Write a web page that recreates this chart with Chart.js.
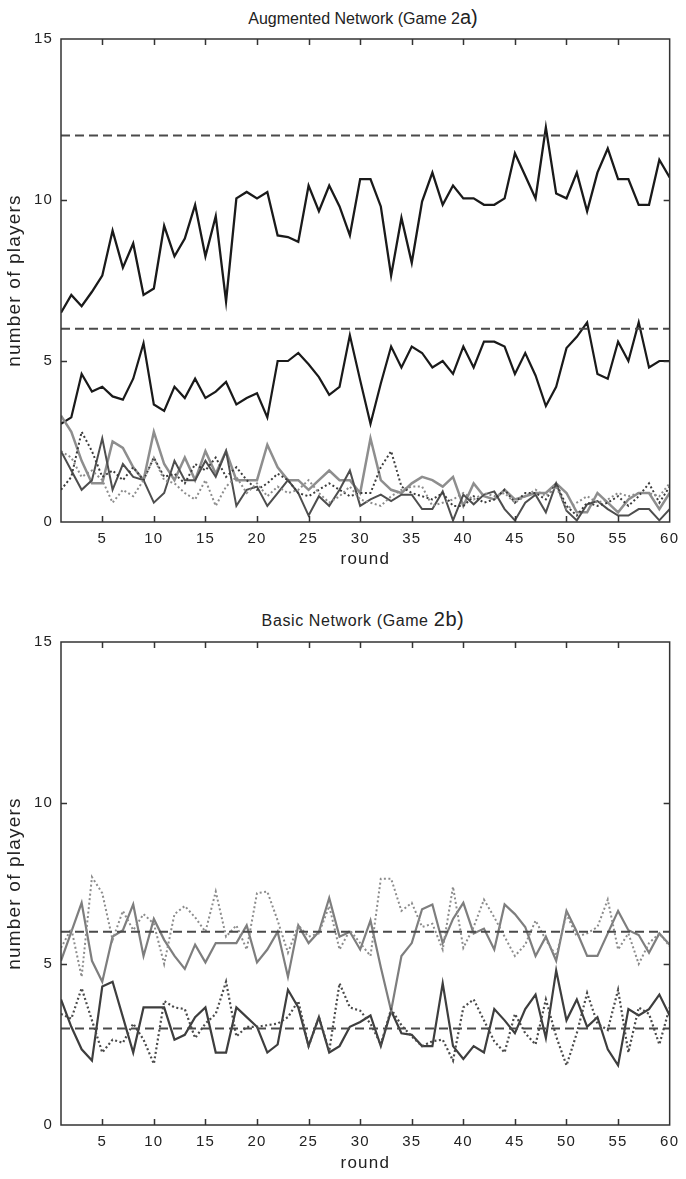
<!DOCTYPE html>
<html>
<head>
<meta charset="utf-8">
<script src="https://cdn.jsdelivr.net/npm/chart.js@4/dist/chart.umd.min.js"></script>
<style>
  body { margin: 0; background: #fff; width: 686px; height: 1179px; overflow: hidden; position: relative;
         font-family: "Liberation Sans", Arial, sans-serif; color: #222; }
  canvas { position: absolute; left: 0; }
  .title { position: absolute; left: 55px; width: 616px; text-align: center; font-size: 16px; line-height: 22px; }
  .title span { font-size: 20px; }
</style>
</head>
<body>
<div class="title" style="top:6px">Augmented Network (Game 2<span>a)</span></div>
<canvas id="augChart" width="686" height="590" style="top:0"></canvas>
<div class="title" style="top:608px;letter-spacing:0.6px">Basic Network (Game <span>2b)</span></div>
<canvas id="basicChart" width="686" height="589" style="top:590px"></canvas>

<script>
// x axis: rounds and tick labels
const rounds = [1,2,3,4,5,6,7,8,9,10,11,12,13,14,15,16,17,18,19,20,
  21,22,23,24,25,26,27,28,29,30,31,32,33,34,35,36,37,38,39,40,
  41,42,43,44,45,46,47,48,49,50,51,52,53,54,55,56,57,58,59,60];
const roundTicks = [5,10,15,20,25,30,35,40,45,50,55,60];
const playerTicks = [0,5,10,15];

// Game 2a - augmented network
const augTargets = [12, 6];
const augHigh = [6.5,7.05,6.7,7.15,7.65,9.05,7.9,8.65,7.05,7.25,9.2,8.25,8.8,9.85,8.25,9.5,6.85,10.05,10.25,10.05,
  10.25,8.9,8.85,8.7,10.45,9.65,10.45,9.8,8.9,10.65,10.65,9.8,7.65,9.45,8.05,9.95,10.85,9.85,10.45,10.05,
  10.05,9.85,9.85,10.05,11.45,10.75,10.05,12.25,10.2,10.05,10.85,9.65,10.85,11.6,10.65,10.65,9.85,9.85,11.25,10.7];
const augLow = [3.05,3.25,4.6,4.05,4.2,3.9,3.8,4.45,5.55,3.65,3.45,4.2,3.85,4.45,3.85,4.05,4.35,3.65,3.85,4.0,
  3.25,5.0,5.0,5.25,4.9,4.5,3.95,4.2,5.8,4.4,3.05,4.3,5.45,4.8,5.45,5.25,4.8,5.0,4.6,5.45,
  4.8,5.6,5.6,5.45,4.6,5.25,4.55,3.6,4.2,5.4,5.75,6.2,4.6,4.45,5.6,5.0,6.2,4.8,5.0,5.0];
const augGreyA = [3.3,2.8,1.9,1.2,1.2,2.5,2.3,1.7,1.3,2.8,1.8,1.3,2.0,1.3,2.2,1.5,2.2,1.3,1.3,1.3,
  2.4,1.7,1.3,1.3,1.0,1.3,1.6,1.3,1.3,0.9,2.6,1.3,1.0,0.9,1.2,1.4,1.3,1.1,1.4,0.5,
  1.2,0.8,0.7,1.0,0.7,0.8,0.9,0.9,1.2,0.9,0.3,0.3,0.9,0.6,0.3,0.7,0.9,0.9,0.4,0.9];
const augGreyB = [2.2,1.6,1.0,1.3,2.6,1.0,1.8,1.4,1.3,0.6,0.9,1.9,1.3,1.3,1.9,1.4,2.2,0.5,1.0,1.1,
  0.5,0.9,1.3,0.9,0.2,0.8,0.5,1.0,1.6,0.5,0.7,0.85,0.65,0.85,0.85,0.4,0.4,0.95,0.05,0.85,
  0.55,0.85,0.95,0.4,0.05,0.6,0.85,0.3,1.2,0.35,0.05,0.55,0.65,0.4,0.2,0.2,0.4,0.4,0.05,0.4];
const augDotA = [1.0,1.4,2.8,2.2,1.4,1.6,1.3,1.7,1.3,2.0,1.4,1.5,1.2,1.8,1.6,2.0,1.4,1.7,1.3,1.0,
  1.2,1.5,1.3,0.9,0.8,1.0,1.2,1.0,0.8,0.9,0.9,1.7,2.2,1.1,0.9,0.8,0.7,0.9,0.5,0.5,
  0.8,0.6,0.7,1.0,0.6,0.9,0.9,0.7,1.2,0.5,0.2,0.6,0.5,0.6,0.8,0.5,0.8,1.2,0.6,1.1];
const augDotB = [2.2,2.0,1.4,1.6,1.3,0.6,1.0,0.8,1.3,2.0,1.3,1.2,0.9,0.7,1.3,0.5,1.1,1.4,0.9,1.2,
  0.8,1.1,0.9,1.0,1.3,0.9,0.6,0.8,1.1,0.7,0.6,0.5,0.8,1.0,1.1,1.1,0.5,0.6,0.7,0.9,
  0.7,0.9,0.8,0.9,0.6,0.8,1.0,0.8,1.1,0.4,0.6,0.8,0.6,0.7,0.9,0.8,0.9,0.9,0.8,1.2];

// Game 2b - basic network
const basicTargets = [6, 3];
const basicHighSolid = [5.1,6.0,6.9,5.1,4.45,5.85,6.05,6.85,5.25,6.4,5.75,5.25,4.85,5.6,5.05,5.65,5.65,5.65,6.2,5.05,
  5.45,6.0,4.6,6.2,5.65,6.0,7.05,5.85,6.0,5.45,6.35,4.9,3.55,5.25,5.65,6.7,6.85,5.65,6.4,6.9,
  5.95,6.1,5.45,6.85,6.55,6.15,5.25,5.85,5.1,6.65,6.0,5.25,5.25,5.95,6.65,6.05,5.9,5.35,5.95,5.6];
const basicHighDot = [5.5,6.1,4.6,7.7,7.2,5.75,6.65,6.05,6.55,6.25,5.0,6.55,6.8,6.45,6.0,7.25,5.85,6.2,5.45,7.2,
  7.25,6.35,5.35,6.2,5.85,5.95,6.8,5.45,6.05,5.65,5.25,7.65,7.65,6.65,6.9,6.15,6.25,5.45,7.4,5.5,
  6.15,7.0,6.45,5.85,5.25,5.6,6.35,5.75,5.25,6.55,5.85,5.95,6.15,7.0,5.45,5.95,5.0,5.65,5.95,5.55];
const basicLowSolid = [3.9,3.05,2.35,2.0,4.3,4.45,3.35,2.25,3.65,3.65,3.65,2.65,2.8,3.35,3.65,2.25,2.25,3.65,3.35,3.05,
  2.25,2.5,4.2,3.65,2.45,3.35,2.25,2.45,3.05,3.2,3.4,2.45,3.55,2.85,2.8,2.45,2.45,4.4,2.45,2.05,
  2.45,2.25,3.6,3.25,2.85,3.6,4.05,2.7,4.8,3.25,3.9,3.05,3.35,2.35,1.85,3.6,3.4,3.6,4.05,3.4];
const basicLowDot = [3.45,3.3,4.25,3.25,2.25,2.65,2.55,3.15,2.65,1.9,3.85,3.65,3.6,2.7,3.15,3.45,4.45,2.75,3.05,3.05,
  3.1,3.15,3.35,3.85,2.45,3.35,2.3,4.4,3.65,3.55,3.15,2.5,3.6,3.1,2.75,2.45,2.6,2.65,2.0,3.65,
  3.9,3.25,2.6,2.25,3.45,2.85,2.5,3.9,2.75,1.85,2.85,4.1,3.15,2.95,4.2,2.25,3.65,3.45,2.5,3.65];

Chart.defaults.font.family = '"Liberation Sans", Arial, sans-serif';
Chart.defaults.color = '#222';

// pair the values with the rounds
function toPoints(values) {
  return values.map((v, i) => ({ x: rounds[i], y: v }));
}

// horizontal dashed reference line across all rounds
function refLine(value) {
  return {
    data: [{ x: rounds[0], y: value }, { x: rounds[rounds.length - 1], y: value }],
    borderColor: '#4a4a4a', borderWidth: 2, borderDash: [9, 5]
  };
}

function series(values, color, width, dotted) {
  return {
    data: toPoints(values),
    borderColor: color,
    borderWidth: width,
    borderDash: dotted ? [2, 2.5] : [],
    borderJoinStyle: 'miter'
  };
}

// the axis texts of the original are a bit spaced out
const spacingPlugin = {
  id: 'spacing',
  beforeDraw(chart) { chart.ctx.letterSpacing = '1.2px'; },
  beforeDatasetsDraw(chart) { chart.ctx.letterSpacing = '0px'; }
};

// matlab style box with inward ticks
const boxPlugin = {
  id: 'box',
  afterDatasetsDraw(chart) {
    const { ctx, chartArea: a, scales: { x, y } } = chart;
    ctx.save();
    ctx.strokeStyle = '#333';
    ctx.lineWidth = 1.5;
    ctx.setLineDash([]);
    ctx.strokeRect(a.left, a.top, a.right - a.left, a.bottom - a.top);
    ctx.beginPath();
    x.ticks.forEach(t => {
      const px = Math.round(x.getPixelForValue(t.value)) + 0.5;
      if (px <= a.left + 2 || px >= a.right - 2) return;
      ctx.moveTo(px, a.bottom); ctx.lineTo(px, a.bottom - 6);
      ctx.moveTo(px, a.top); ctx.lineTo(px, a.top + 6);
    });
    y.ticks.forEach(t => {
      const py = Math.round(y.getPixelForValue(t.value)) + 0.5;
      if (py <= a.top + 2 || py >= a.bottom - 2) return;
      ctx.moveTo(a.left, py); ctx.lineTo(a.left + 6, py);
      ctx.moveTo(a.right, py); ctx.lineTo(a.right - 6, py);
    });
    ctx.stroke();
    ctx.restore();
  }
};

function makeChart(id, datasets, padTop, xHeight, titleGap) {
  const ctx = document.getElementById(id).getContext('2d');
  return new Chart(ctx, {
    type: 'line',
    data: { datasets: datasets },
    options: {
      responsive: false,
      animation: false,
      devicePixelRatio: 1,
      layout: { padding: { top: padTop, right: 9, bottom: 0, left: 0 } },
      elements: { point: { radius: 0 }, line: { tension: 0, fill: false } },
      plugins: { legend: { display: false }, tooltip: { enabled: false } },
      scales: {
        x: {
          type: 'linear', min: 1, max: 60,
          grid: { display: false, drawTicks: false },
          border: { display: false },
          afterBuildTicks: s => { s.ticks = roundTicks.map(v => ({ value: v })); },
          afterFit: s => { s.height = xHeight; },
          ticks: { padding: 8, font: { size: 15 }, maxRotation: 0, autoSkip: false },
          title: { display: true, text: 'round', font: { size: 17 }, padding: { top: 0, bottom: titleGap } }
        },
        y: {
          min: 0, max: 15,
          grid: { display: false, drawTicks: false },
          border: { display: false },
          afterBuildTicks: s => { s.ticks = playerTicks.map(v => ({ value: v })); },
          afterFit: s => { s.width = 61; },
          ticks: { padding: 8, font: { size: 15 } },
          title: { display: true, text: 'number of players', font: { size: 19 }, padding: { top: 3, bottom: 0 } }
        }
      }
    },
    plugins: [spacingPlugin, boxPlugin]
  });
}

makeChart('augChart', [
  refLine(augTargets[0]),
  refLine(augTargets[1]),
  series(augDotB, '#8c8c8c', 2, true),
  series(augDotA, '#3c3c3c', 2, true),
  series(augGreyB, '#4e4e4e', 2, false),
  series(augGreyA, '#8e8e8e', 2.5, false),
  series(augLow, '#1a1a1a', 2.2, false),
  series(augHigh, '#1a1a1a', 2.3, false)
], 39, 68, 20);

makeChart('basicChart', [
  refLine(basicTargets[0]),
  refLine(basicTargets[1]),
  series(basicHighDot, '#8c8c8c', 2, true),
  series(basicLowDot, '#4a4a4a', 2.2, true),
  series(basicHighSolid, '#7e7e7e', 2.2, false),
  series(basicLowSolid, '#3e3e3e', 2.2, false)
], 52, 54, 5);
</script>
</body>
</html>
